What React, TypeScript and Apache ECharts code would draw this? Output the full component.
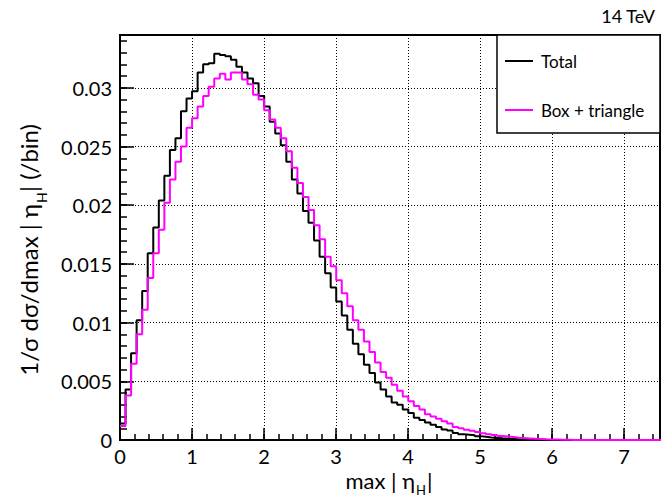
import React, { useEffect, useRef } from "react";
import * as echarts from "echarts";

const binWidth = 0.077;

const totalValues = [
  0.0014, 0.0043, 0.0074, 0.0102, 0.0127, 0.0159, 0.0181, 0.0204, 0.0225, 0.0247,
  0.0257, 0.0280, 0.0291, 0.0297, 0.0313, 0.0320, 0.0321, 0.0329, 0.0328, 0.0327,
  0.0324, 0.0318, 0.0313, 0.0308, 0.0304, 0.0293, 0.0284, 0.0271, 0.0261, 0.0251,
  0.0237, 0.0222, 0.0210, 0.0195, 0.0185, 0.0170, 0.0156, 0.0142, 0.0130, 0.0118,
  0.0106, 0.0094, 0.0082, 0.0073, 0.0064, 0.0057, 0.0049, 0.0043, 0.0037, 0.0032,
  0.0030, 0.0026, 0.0023, 0.0019, 0.0017, 0.0015, 0.0013, 0.0011, 0.0009, 0.0008,
  0.0006, 0.0005, 0.00045, 0.0004, 0.00033, 0.00027, 0.00022, 0.00018, 0.00014, 0.00011,
  0.00009, 0.00007, 0.00005, 0.00004, 0.00003, 0.00002, 0.00001, 0, 0, 0,
  0, 0, 0, 0, 0, 0, 0, 0, 0, 0,
  0, 0, 0, 0, 0, 0, 0, 0,
];

const boxTriangleValues = [
  0.0012, 0.0038, 0.0065, 0.0090, 0.0111, 0.0138, 0.0159, 0.0179, 0.0202, 0.0222,
  0.0237, 0.0250, 0.0266, 0.0274, 0.0284, 0.0293, 0.0301, 0.0308, 0.0312, 0.0307,
  0.0313, 0.0313, 0.0307, 0.0303, 0.0294, 0.0290, 0.0281, 0.0273, 0.0266, 0.0257,
  0.0246, 0.0232, 0.0219, 0.0207, 0.0196, 0.0183, 0.0171, 0.0156, 0.0148, 0.0136,
  0.0125, 0.0114, 0.0102, 0.0094, 0.0084, 0.0075, 0.0066, 0.0058, 0.0053, 0.0047,
  0.0042, 0.0037, 0.0033, 0.0029, 0.0026, 0.0022, 0.0020, 0.0018, 0.0016, 0.0014,
  0.0011, 0.0010, 0.00088, 0.00078, 0.00068, 0.00058, 0.0005, 0.00042, 0.00035, 0.0003,
  0.00025, 0.0002, 0.00016, 0.00013, 0.0001, 0.00008, 0.00006, 0.00005, 0.00004, 0.00003,
  0.00002, 0.00001, 0, 0, 0, 0, 0, 0, 0, 0,
  0, 0, 0, 0, 0, 0, 0, 0,
];

const seriesNames = ["Total", "Box + triangle"];
const seriesColors = ["#000000", "#ff00ff"];
const xTicks = { min: 0, max: 7.5, major: 1, minor: 0.2 };
const yTicks = { min: 0, max: 0.0345, major: 0.005, minor: 0.001 };
const xTitle = ["max | η", "H", "|"];
const yTitle = ["1/σ dσ/dmax | η", "H", "| (/bin)"];
const energyLabel = "14 TeV";

const FONT = "Lato";

function toSteps(values: number[]) {
  const pts = values.map((v, k) => [k * binWidth, v]);
  pts.push([values.length * binWidth, values[values.length - 1]]);
  return pts;
}

function titleTexts(parts: string[], joinX: number, size: number, subSize: number, subDrop: number, subW: number) {
  return [
    {
      type: "text",
      x: joinX,
      y: 0,
      style: {
        text: parts[0], fontSize: size, lineHeight: size - 4, fontFamily: FONT, fill: "#000",
        align: "right", verticalAlign: "middle",
      },
    },
    {
      type: "text",
      x: joinX + 1,
      y: subDrop,
      style: {
        text: parts[1], fontSize: subSize, lineHeight: subSize, fontFamily: FONT, fill: "#000",
        align: "left", verticalAlign: "middle",
      },
    },
    {
      type: "text",
      x: joinX + 1 + subW,
      y: 0,
      style: {
        text: parts[2], fontSize: size, lineHeight: size - 4, fontFamily: FONT, fill: "#000",
        align: "left", verticalAlign: "middle",
      },
    },
  ];
}

export default function App() {
  const ref = useRef<HTMLDivElement>(null);
  useEffect(() => {
    if (!ref.current) return;
    const chart = echarts.init(ref.current, null, { renderer: "svg" });
    chart.setOption({
      animation: false,
      grid: {
        left: 120,
        right: 1,
        top: 35,
        bottom: 57,
        show: true,
        borderColor: "#000",
        borderWidth: 2,
        backgroundColor: "#fff",
      },
      xAxis: [
        {
          type: "value",
          min: xTicks.min,
          max: xTicks.max,
          interval: xTicks.major,
          position: "bottom",
          axisLine: { show: true, lineStyle: { color: "#000", width: 2 } },
          axisTick: { show: true, inside: true, length: 12, lineStyle: { color: "#000", width: 1.5 } },
          minorTick: { show: false },
          axisLabel: {
            show: true,
            margin: 6,
            fontSize: 20,
            lineHeight: 20,
            fontFamily: FONT,
            color: "#000",
            showMaxLabel: false,
          },
          splitLine: { show: true, lineStyle: { color: "#000", width: 1, type: [1, 2] } },
        },
        {
          type: "value",
          min: xTicks.min,
          max: xTicks.max,
          interval: xTicks.minor,
          position: "bottom",
          axisLine: { show: false },
          axisTick: { show: true, inside: true, length: 6, lineStyle: { color: "#000", width: 1.5 } },
          axisLabel: { show: false },
          splitLine: { show: false },
        },
      ],
      yAxis: [
        {
          type: "value",
          min: yTicks.min,
          max: yTicks.max,
          interval: yTicks.major,
          position: "left",
          axisLine: { show: true, lineStyle: { color: "#000", width: 2 } },
          axisTick: { show: true, inside: true, length: 14, lineStyle: { color: "#000", width: 1.5 } },
          axisLabel: {
            show: true,
            margin: 8,
            fontSize: 20,
            lineHeight: 20,
            fontFamily: FONT,
            color: "#000",
            showMaxLabel: false,
          },
          splitLine: { show: true, lineStyle: { color: "#000", width: 1, type: [1, 2] } },
        },
        {
          type: "value",
          min: yTicks.min,
          max: yTicks.max,
          interval: yTicks.minor,
          position: "left",
          axisLine: { show: false },
          axisTick: { show: true, inside: true, length: 7, lineStyle: { color: "#000", width: 1.5 } },
          axisLabel: { show: false },
          splitLine: { show: false },
        },
      ],
      legend: {
        data: seriesNames,
        orient: "vertical",
        left: 505,
        top: 51,
        padding: 0,
        icon: "rect",
        itemWidth: 28,
        itemHeight: 2,
        itemGap: 29,
        textStyle: { fontSize: 17, lineHeight: 20, fontFamily: FONT, color: "#000", padding: [0, 0, 0, 3] },
        z: 10,
      },
      graphic: [
        {
          type: "rect",
          z: 5,
          shape: { x: 497, y: 35, width: 163, height: 98 },
          style: { fill: "#fff", stroke: "#000", lineWidth: 1.5 },
        },
        {
          type: "text",
          x: 655,
          y: 16,
          style: {
            text: energyLabel,
            fontSize: 18,
            fontFamily: FONT,
            fill: "#000",
            align: "right",
            verticalAlign: "middle",
          },
        },
        {
          type: "group",
          x: 0,
          y: 480,
          children: titleTexts(xTitle, 415, 22, 13, 10, 11),
        },
        {
          type: "group",
          x: 28,
          y: 420,
          rotation: Math.PI / 2,
          children: titleTexts(yTitle, 216, 24, 14, 13, 11),
        },
      ],
      series: [
        {
          name: seriesNames[0],
          type: "line",
          step: "end",
          xAxisIndex: 0,
          yAxisIndex: 0,
          symbol: "none",
          data: toSteps(totalValues),
          lineStyle: { color: seriesColors[0], width: 2 },
          itemStyle: { color: seriesColors[0] },
          z: 2,
        },
        {
          name: seriesNames[1],
          type: "line",
          step: "end",
          xAxisIndex: 0,
          yAxisIndex: 0,
          symbol: "none",
          data: toSteps(boxTriangleValues),
          lineStyle: { color: seriesColors[1], width: 2 },
          itemStyle: { color: seriesColors[1] },
          z: 3,
        },
      ],
    });
    return () => chart.dispose();
  }, []);
  return (
    <div
      ref={ref}
      style={{ position: "fixed", left: 0, top: 0, width: 661, height: 497, background: "#fff" }}
    />
  );
}
